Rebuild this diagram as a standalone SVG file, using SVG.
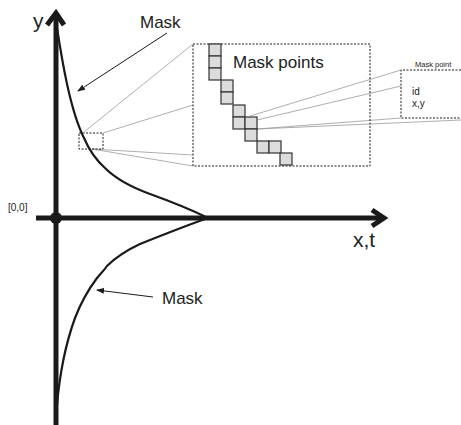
<svg xmlns="http://www.w3.org/2000/svg" width="461" height="425" viewBox="0 0 461 425">
<style>
text{font-family:"Liberation Sans",Arial,sans-serif;fill:#222}
.ax{stroke:#1a1a1a;stroke-width:5;fill:none;stroke-linecap:butt}
.curve{stroke:#1a1a1a;stroke-width:2.2;fill:none}
.lead{stroke:#1a1a1a;stroke-width:1;fill:none}
.dash{stroke:#1a1a1a;stroke-width:1;fill:none;stroke-dasharray:2,1.5}
.gray{stroke:#999;stroke-width:0.8;fill:none}
.cell{fill:#dcdcdc;stroke:#333;stroke-width:1.2}
</style>
<defs>
<marker id="ah" markerWidth="8" markerHeight="6" refX="7" refY="3" orient="auto" markerUnits="userSpaceOnUse">
<path d="M0,0 L8,3 L0,6 Z" fill="#1a1a1a"/>
</marker>
</defs>
<rect width="461" height="425" fill="#fff"/>
<g id="axes">
<line class="ax" x1="56" y1="14" x2="56" y2="425"/>
<polyline class="ax" points="47,25 56,13 64,25"/>
<line class="ax" x1="36" y1="218" x2="383" y2="218"/>
<polyline class="ax" points="372,210 384,218 372,226"/>
<circle cx="56" cy="218" r="6" fill="#1a1a1a"/>
<text x="8" y="211" font-size="10">[0,0]</text>
<text x="33" y="28" font-size="21">y</text>
<text x="353" y="247" font-size="21">x,t</text>
</g>
<g id="mask-curve">
<path class="curve" d="M57,28 C62,60 70,110 84,138 C90,152 96,160 105,168 C115,178 128,186 150,194 C175,203 192,210 208,218"/>
<path class="curve" d="M208,218 C185,226 160,236 140,244 C125,251 115,258 107,266 C103,272 100,274 97,278 C88,290 82,300 75,318 C67,340 60,370 57,405"/>
</g>
<g id="connectors">
<line class="lead" x1="167" y1="33" x2="78" y2="91" marker-end="url(#ah)"/>
<line class="lead" x1="153" y1="297" x2="97" y2="290" marker-end="url(#ah)"/>
<line class="gray" x1="84" y1="132" x2="193" y2="44"/>
<line class="gray" x1="103" y1="133" x2="193" y2="105"/>
<line class="gray" x1="92" y1="149" x2="193" y2="155"/>
<line class="gray" x1="92" y1="149" x2="193" y2="166"/>
<line class="gray" x1="250" y1="116" x2="401" y2="70"/>
<line class="gray" x1="257" y1="120" x2="401" y2="86"/>
<line class="gray" x1="257" y1="129" x2="401" y2="118"/>
<line class="gray" x1="257" y1="129" x2="461" y2="120"/>
</g>
<g id="mask-label-top">
<text x="140" y="28" font-size="17">Mask</text>
</g>
<g id="mask-label-bottom">
<text x="162" y="304" font-size="17">Mask</text>
</g>
<g id="zoom-window">
<rect class="dash" x="79" y="133" width="24" height="16"/>
</g>
<g id="mask-points">
<rect class="dash" x="193" y="44" width="177" height="122"/>
<text x="233" y="68" font-size="17">Mask points</text>
<rect class="cell" x="209" y="44" width="12" height="12"/>
<rect class="cell" x="209" y="56" width="12" height="12"/>
<rect class="cell" x="209" y="68" width="12" height="12"/>
<rect class="cell" x="221" y="80" width="12" height="12"/>
<rect class="cell" x="221" y="92" width="12" height="12"/>
<rect class="cell" x="233" y="105" width="12" height="12"/>
<rect class="cell" x="233" y="117" width="12" height="12"/>
<rect class="cell" x="245" y="117" width="12" height="12"/>
<rect class="cell" x="245" y="129" width="12" height="12"/>
<rect class="cell" x="257" y="141" width="12" height="12"/>
<rect class="cell" x="269" y="141" width="12" height="12"/>
<rect class="cell" x="280" y="153" width="12" height="12"/>
</g>
<g id="mask-point">
<polyline class="dash" points="461,70 401,70 401,118 461,118"/>
<text x="415" y="67" font-size="7.5">Mask point</text>
<text x="412" y="95" font-size="10">id</text>
<text x="412" y="107" font-size="10">x,y</text>
</g>
</svg>
